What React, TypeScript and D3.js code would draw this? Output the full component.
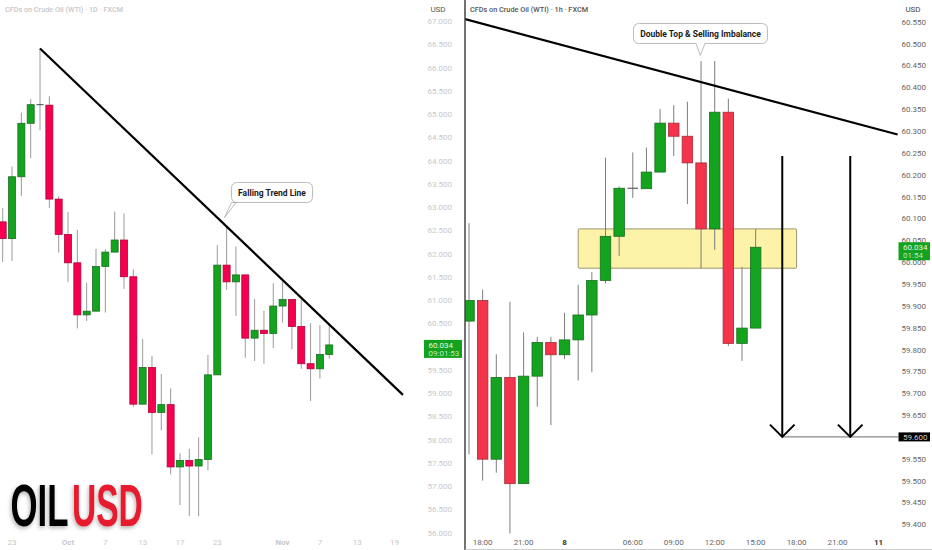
import * as d3 from 'd3';

// daily panel (prices)
const dailyOpen = [62.68, 62.32, 63.65, 64.8, 65.2, 65.19, 63.17, 62.41, 61.8, 60.68, 60.76, 61.72, 62.03, 62.29, 61.5, 58.76, 59.55, 58.58, 58.75, 57.41, 57.55, 57.43, 57.57, 59.39, 61.75, 61.39, 61.54, 60.18, 60.35, 60.28, 60.87, 61.01, 60.43, 59.63, 59.52, 59.83];
const dailyHigh = [62.98, 63.87, 65.03, 65.32, 66.41, 65.38, 63.23, 62.89, 62.51, 61.37, 62.1, 62.09, 62.9, 62.86, 61.66, 60.16, 59.8, 59.41, 59.1, 57.7, 57.8, 58.05, 59.82, 62.18, 62.58, 62.15, 61.54, 61.02, 60.77, 61.36, 61.39, 61.01, 61.04, 60.5, 60.46, 60.48];
const dailyLow = [61.82, 61.84, 63.24, 64.05, 64.65, 62.98, 62.02, 61.39, 60.39, 60.55, 60.76, 60.73, 62.03, 61.24, 58.7, 58.76, 57.68, 58.2, 57.25, 56.59, 56.35, 56.35, 57.34, 59.39, 61.22, 60.66, 59.76, 59.69, 59.63, 59.97, 60.51, 59.94, 59.52, 58.83, 59.31, 59.74];
const dailyClose = [62.32, 63.65, 64.8, 65.2, 65.19, 63.17, 62.41, 61.8, 60.68, 60.76, 61.72, 62.03, 62.29, 61.5, 58.76, 59.55, 58.58, 58.75, 57.41, 57.55, 57.43, 57.57, 59.39, 61.75, 61.39, 61.54, 60.18, 60.35, 60.28, 60.87, 61.01, 60.43, 59.63, 59.52, 59.83, 60.034];
const dailyTickIndex = [1, 7, 11, 15, 19, 23, 30, 34, 38, 42];
const dailyTickLabels = ['23', 'Oct', '7', '13', '17', '23', 'Nov', '7', '13', '19'];
// 60.000 sits behind the price label in the original
const dailyPriceTicks = d3.range(56, 67.01, 0.5).filter(p => p !== 60);

// hourly panel
const hourlyOpen = [59.865, 59.912, 59.549, 59.736, 59.493, 59.739, 59.816, 59.788, 59.822, 59.879, 59.958, 60.059, 60.169, 60.168, 60.206, 60.318, 60.288, 60.227, 60.076, 60.343, 59.814, 59.849];
const hourlyHigh = [60.089, 59.937, 59.789, 59.909, 59.839, 59.829, 59.829, 59.884, 59.948, 59.977, 60.239, 60.173, 60.251, 60.262, 60.35, 60.359, 60.367, 60.46, 60.46, 60.374, 59.989, 60.076];
const hourlyLow = [59.56, 59.5, 59.518, 59.379, 59.493, 59.669, 59.627, 59.778, 59.729, 59.748, 59.951, 60.014, 60.147, 60.168, 60.206, 60.243, 60.133, 59.986, 60.028, 59.808, 59.774, 59.849];
const hourlyClose = [59.912, 59.549, 59.736, 59.493, 59.739, 59.816, 59.788, 59.822, 59.879, 59.958, 60.059, 60.169, 60.168, 60.206, 60.318, 60.288, 60.227, 60.076, 60.343, 59.814, 59.849, 60.034];
const hourlyTickIndex = [1, 4, 7, 12, 15, 18, 21, 24, 27, 30];
const hourlyTickLabels = ['18:00', '21:00', '8', '06:00', '09:00', '12:00', '15:00', '18:00', '21:00', '11'];
const hourlyPriceTicks = d3.range(59.4, 60.551, 0.05);

const dailyTrend = [[4, 66.41], [42.9, 58.96]];
const hourlyTrend = [[-0.29, 60.556], [31.4, 60.292]];
const zoneBars = [8, 24];
const zonePrices = [60.076, 59.986];
const arrowBars = [22.95, 27.93];
const arrowTop = 60.243;
const targetPrice = 59.6;
const lastPrice = 60.034;

const xDaily = d3.scaleLinear().domain([0, 35]).range([2.7, 329.25]);
const yDaily = d3.scaleLinear().domain([56, 67]).range([532.5, 21]);
const xHourly = d3.scaleLinear().domain([0, 21]).range([469, 755.65]);
const yHourly = d3.scaleLinear().domain([59.4, 60.55]).range([524.3, 21.75]);

const FONT = 'Roboto, "Noto Sans", sans-serif';
const GREEN = '#14a31f';

function Candles({ open, high, low, close, x, y, width, up, down, upEdge, downEdge, wick }: any) {
  return (
    <g>
      {open.map((o: number, i: number) => {
        const c = close[i];
        const isUp = c >= o;
        const top = y(Math.max(o, c));
        const h = Math.abs(y(o) - y(c));
        return (
          <g key={i}>
            <line x1={x(i)} x2={x(i)} y1={y(high[i])} y2={y(low[i])} stroke={wick} strokeWidth={1} />
            {h < 1 ? (
              <line x1={x(i) - width / 2} x2={x(i) + width / 2} y1={top} y2={top} stroke="#444" strokeWidth={1} />
            ) : (
              <rect x={x(i) - width / 2} y={top} width={width} height={h} fill={isUp ? up : down} stroke={isUp ? upEdge : downEdge} strokeWidth={0.8} />
            )}
          </g>
        );
      })}
    </g>
  );
}

function Callout({ box, tail, label, size }: any) {
  // box: x0, y0, x1, y1; tail: base-left, base-right, tip x, tip y
  const [x0, y0, x1, y1] = box;
  const [b0, b1, tx, ty] = tail;
  const r = 6;
  const d = `M${x0 + r},${y0}H${x1 - r}Q${x1},${y0} ${x1},${y0 + r}V${y1 - r}Q${x1},${y1} ${x1 - r},${y1}H${b1}L${tx},${ty}L${b0},${y1}H${x0 + r}Q${x0},${y1} ${x0},${y1 - r}V${y0 + r}Q${x0},${y0} ${x0 + r},${y0}Z`;
  return (
    <g>
      <path d={d} fill="#fff" stroke="#aaa" strokeWidth={0.8} />
      <text x={(x0 + x1) / 2} y={(y0 + y1) / 2 + 3} textAnchor="middle" fontSize={size} fontWeight={700} fill="#1a1a1a" fontFamily={FONT}>{label}</text>
    </g>
  );
}

export default function App() {
  const trendLine = d3.line();
  return (
    <svg width={932} height={550} viewBox="0 0 932 550" style={{ position: 'absolute', left: 0, top: 0, background: '#fff' }}>
      <defs>
        <clipPath id="hourly-clip"><rect x={465} y={0} width={433} height={550} /></clipPath>
        <filter id="logo-shadow" x="-10%" y="-10%" width="120%" height="130%">
          <feDropShadow dx={-1} dy={2} stdDeviation={2} floodColor="#000" floodOpacity={0.3} />
        </filter>
      </defs>

      {/* left panel */}
      <text x={5} y={12} fontSize={8} fontWeight={500} textLength={118} lengthAdjust="spacingAndGlyphs" fill="#c8c8c8" fontFamily={FONT}>CFDs on Crude Oil (WTI) · 1D · FXCM</text>
      <text x={438} y={12} fontSize={8} textAnchor="middle" fill="#555" fontFamily={FONT}>USD</text>
      {dailyPriceTicks.map(p => (
        <text key={p} x={452} y={yDaily(p) + 3} textAnchor="end" fontSize={8} fill="#c8c8c8" fontFamily={FONT}>{p.toFixed(3)}</text>
      ))}
      {dailyTickIndex.map((t, k) => (
        <text key={k} x={xDaily(t)} y={545} textAnchor="middle" fontSize={8} fontWeight={dailyTickLabels[k] === 'Oct' || dailyTickLabels[k] === 'Nov' ? 700 : 400} fill="#c8c8c8" fontFamily={FONT}>{dailyTickLabels[k]}</text>
      ))}
      <Candles open={dailyOpen} high={dailyHigh} low={dailyLow} close={dailyClose} x={xDaily} y={yDaily} width={7}
        up={GREEN} down="#f5004f" upEdge="#1b6e22" downEdge="#b3003a" wick="#9a9a9a" />
      <path d={trendLine(dailyTrend.map(([i, p]) => [xDaily(i), yDaily(p)]) as any) || ''} fill="none" stroke="#000" strokeWidth={2.2} />
      <Callout box={[231.5, 182.5, 312.5, 202.5]} tail={[231.5, 236, 224.5, 217.5]} label="Falling Trend Line" size={8.5} />
      <rect x={424} y={yDaily(lastPrice) - 5} width={38} height={18} fill={GREEN} />
      <text x={428.5} y={yDaily(lastPrice) + 3} fontSize={8} fill="#e4f5e4" fontFamily={FONT}>{lastPrice.toFixed(3)}</text>
      <text x={428.5} y={yDaily(lastPrice) + 11} fontSize={8} fill="#bfe6c0" fontFamily={FONT}>09:01:53</text>

      {/* logo */}
      <g filter="url(#logo-shadow)" fontFamily='"Liberation Sans Narrow", "Liberation Sans", sans-serif' fontWeight={700} fontSize={60}>
        <text transform="translate(10.5,525.7) scale(0.707,1)" textLength={82} lengthAdjust="spacingAndGlyphs" fill="#000">OIL</text>
        <text transform="translate(72,525.7) scale(0.688,1)" textLength={103} lengthAdjust="spacingAndGlyphs" fill="#e61f2e">USD</text>
      </g>

      {/* right panel */}
      <rect x={xHourly(zoneBars[0])} y={yHourly(zonePrices[0])} width={xHourly(zoneBars[1]) - xHourly(zoneBars[0])} height={yHourly(zonePrices[1]) - yHourly(zonePrices[0])}
        rx={1} fill="#fdf3a8" stroke="#8f8a68" strokeWidth={0.9} />
      <g clipPath="url(#hourly-clip)">
        <Candles open={hourlyOpen} high={hourlyHigh} low={hourlyLow} close={hourlyClose} x={xHourly} y={yHourly} width={10.5}
          up={GREEN} down="#f4344a" upEdge="#1b6e22" downEdge="#a52a38" wick="#7d7d7d" />
        <path d={trendLine(hourlyTrend.map(([i, p]) => [xHourly(i), yHourly(p)]) as any) || ''} fill="none" stroke="#000" strokeWidth={2.2} />
      </g>
      <line x1={xHourly(arrowBars[0])} x2={898} y1={yHourly(targetPrice)} y2={yHourly(targetPrice)} stroke="#888" strokeWidth={1.2} />
      {arrowBars.map(b => {
        const ax = xHourly(b);
        const tip = yHourly(targetPrice);
        return (
          <g key={b} fill="none" stroke="#000" strokeWidth={2}>
            <line x1={ax} x2={ax} y1={yHourly(arrowTop)} y2={tip} />
            <path d={`M${ax - 12.3},${tip - 12.3}L${ax},${tip}L${ax + 12.3},${tip - 12.3}`} />
          </g>
        );
      })}
      <Callout box={[633.5, 23.5, 767.5, 43.5]} tail={[696, 705, 700.3, 55.3]} label="Double Top & Selling Imbalance" size={8.5} />

      <text x={470} y={12} fontSize={8} fontWeight={500} textLength={118} lengthAdjust="spacingAndGlyphs" fill="#555" fontFamily={FONT}>CFDs on Crude Oil (WTI) · 1h · FXCM</text>
      <text x={913} y={12} fontSize={8} textAnchor="middle" fill="#444" fontFamily={FONT}>USD</text>
      {hourlyPriceTicks.map(p => (
        <text key={p} x={926} y={yHourly(p) + 3} textAnchor="end" fontSize={8} fill="#666" fontFamily={FONT}>{p.toFixed(3)}</text>
      ))}
      {hourlyTickIndex.map((t, k) => (
        <text key={k} x={xHourly(t)} y={545} textAnchor="middle" fontSize={8} fontWeight={hourlyTickLabels[k].length < 3 ? 700 : 400} fill={hourlyTickLabels[k].length < 3 ? '#333' : '#666'} fontFamily={FONT}>{hourlyTickLabels[k]}</text>
      ))}
      <rect x={898.5} y={yHourly(lastPrice) - 5} width={31.5} height={18} fill={GREEN} />
      <text x={903} y={yHourly(lastPrice) + 3} fontSize={8} fill="#e4f5e4" fontFamily={FONT}>{lastPrice.toFixed(3)}</text>
      <text x={903} y={yHourly(lastPrice) + 11} fontSize={8} fill="#bfe6c0" fontFamily={FONT}>01:54</text>
      <rect x={898.5} y={yHourly(targetPrice) - 4.5} width={31.5} height={9} fill="#000" />
      <text x={903} y={yHourly(targetPrice) + 3} fontSize={8} fill="#ccc" fontFamily={FONT}>{targetPrice.toFixed(3)}</text>

      <line x1={465} x2={465} y1={0} y2={550} stroke="#444" strokeWidth={1.5} />
      <line x1={465} x2={932} y1={549.5} y2={549.5} stroke="#ccc" strokeWidth={1} />
    </svg>
  );
}
